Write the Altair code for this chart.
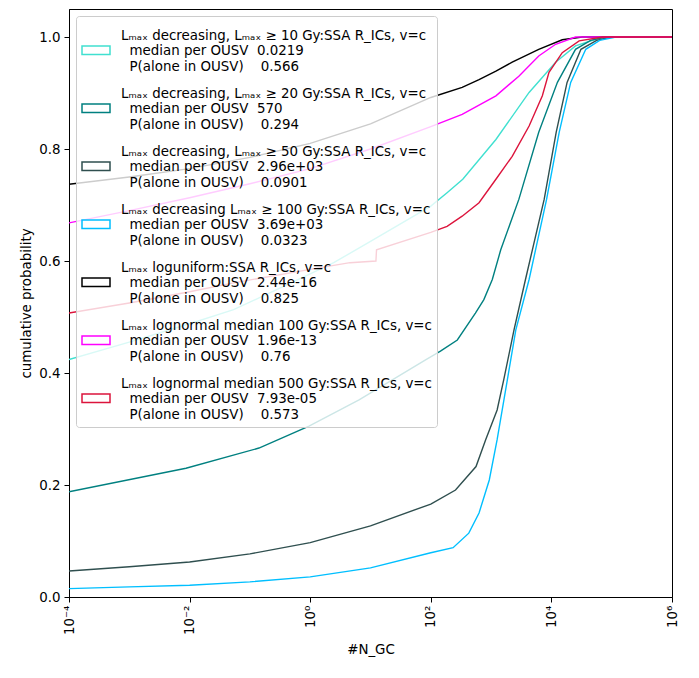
import altair as alt
import pandas as pd

# ---------------- data ----------------
line1 = [
    "Lₘₐₓ decreasing, Lₘₐₓ ≥ 10 Gy:SSA R_ICs, v=c",
    "Lₘₐₓ decreasing, Lₘₐₓ ≥ 20 Gy:SSA R_ICs, v=c",
    "Lₘₐₓ decreasing, Lₘₐₓ ≥ 50 Gy:SSA R_ICs, v=c",
    "Lₘₐₓ decreasing Lₘₐₓ ≥ 100 Gy:SSA R_ICs, v=c",
    "Lₘₐₓ loguniform:SSA R_ICs, v=c",
    "Lₘₐₓ lognormal median 100 Gy:SSA R_ICs, v=c",
    "Lₘₐₓ lognormal median 500 Gy:SSA R_ICs, v=c",
]
medians = ["0.0219", "570", "2.96e+03", "3.69e+03", "2.44e-16", "1.96e-13", "7.93e-05"]
p_alone = ["0.566", "0.294", "0.0901", "0.0323", "0.825", "0.76", "0.573"]
colors = ["#40E0D0", "#008080", "#2F4F4F", "#00BFFF", "#000000", "#FF00FF", "#DC143C"]

# exponents (log10 of #N_GC) and cumulative probabilities, per series
e_10 = [-4, -3, -2, -1.27, 0, 0.39, 1, 2, 2.27, 2.53, 3.08, 3.63, 4.07, 4.40, 4.85, 6]
p_10 = [0.424, 0.455, 0.488, 0.513, 0.577, 0.597, 0.635, 0.698, 0.722, 0.746, 0.817, 0.901, 0.955, 0.984, 1.0, 1.0]

e_20 = [-4, -2.06, -0.85, -0.02, 0.81, 1.92, 2.16, 2.44, 2.74, 2.88, 3.02, 3.16, 3.46, 3.79, 4.10, 4.40, 4.65, 4.90, 6]
p_20 = [0.188, 0.230, 0.266, 0.305, 0.352, 0.424, 0.439, 0.459, 0.507, 0.531, 0.567, 0.62, 0.71, 0.83, 0.919, 0.978, 0.994, 1.0, 1.0]

e_50 = [-4, -3, -2, -1, 0, 1, 2, 2.41, 2.75, 2.91, 3.10, 3.21, 3.38, 3.57, 3.88, 4.08, 4.26, 4.49, 4.75, 4.99, 6]
p_50 = [0.0465, 0.054, 0.0626, 0.077, 0.097, 0.127, 0.166, 0.191, 0.233, 0.281, 0.334, 0.388, 0.477, 0.567, 0.71, 0.83, 0.919, 0.978, 0.994, 1.0, 1.0]

e_100 = [-4, -3, -2, -1, 0, 1, 2, 2.37, 2.63, 2.80, 2.97, 3.10, 3.27, 3.41, 3.63, 3.92, 4.13, 4.32, 4.57, 4.80, 5.07, 6]
p_100 = [0.015, 0.018, 0.021, 0.027, 0.036, 0.052, 0.079, 0.088, 0.114, 0.15, 0.209, 0.281, 0.388, 0.477, 0.567, 0.71, 0.83, 0.919, 0.978, 0.994, 1.0, 1.0]

e_lu = [-4, -3, -2, -1, 0, 1, 2, 2.52, 2.80, 3.08, 3.35, 3.79, 4.18, 4.51, 6]
p_lu = [0.737, 0.75, 0.765, 0.785, 0.81, 0.845, 0.892, 0.91, 0.924, 0.939, 0.955, 0.978, 0.995, 1.0, 1.0]

e_ln100 = [-4, -3, -2, -1, 0, 1, 2, 2.52, 3.08, 3.46, 3.79, 4.07, 4.40, 6]
p_ln100 = [0.668, 0.69, 0.713, 0.738, 0.765, 0.80, 0.84, 0.862, 0.895, 0.930, 0.966, 0.987, 1.0, 1.0]

e_ln500 = [-4, -3, -2, -1.27, 0, 0.66, 1.09, 1.10, 2, 2.27, 2.52, 2.80, 3.08, 3.35, 3.63, 3.85, 3.96, 4.18, 4.46, 4.85, 6]
p_ln500 = [0.507, 0.525, 0.545, 0.561, 0.585, 0.597, 0.600, 0.62, 0.651, 0.662, 0.680, 0.704, 0.746, 0.787, 0.841, 0.895, 0.937, 0.972, 0.993, 1.0, 1.0]

xtick_vals = [1e-4, 1e-2, 1e0, 1e2, 1e4, 1e6]
xtick_labels = ["10⁻⁴", "10⁻²", "10⁰", "10²", "10⁴", "10⁶"]
ytick_vals = [0.0, 0.2, 0.4, 0.6, 0.8, 1.0]

# ---------------- build table ----------------
NB = "\u00a0"
ZW = "\u200b"
names = [
    f"{l1}|{ZW}{NB*2}median per OUSV{NB*2}{m}|{ZW}{NB*2}P(alone in OUSV){NB*4}{pa}"
    for l1, m, pa in zip(line1, medians, p_alone)
]
series = [(e_10, p_10), (e_20, p_20), (e_50, p_50), (e_100, p_100),
          (e_lu, p_lu), (e_ln100, p_ln100), (e_ln500, p_ln500)]
rows = []
for i, (es, ps) in enumerate(series):
    for e, p in zip(es, ps):
        rows.append({"series": names[i], "order": i, "x": 10.0 ** e, "p": p})
df = pd.DataFrame(rows)

label_arr = "[" + ",".join(f"'{s}'" for s in xtick_labels) + "]"
x_label_expr = f"{label_arr}[round(log(datum.value)/LN10/2)+2]"

FONT = "DejaVu Sans"
FS = 13.4

chart = alt.Chart(df).mark_line(strokeWidth=1.4, clip=True).encode(
    x=alt.X("x:Q",
            scale=alt.Scale(type="log", domain=[1e-4, 1e6], nice=False),
            axis=alt.Axis(title="#N_GC", values=xtick_vals, labelExpr=x_label_expr,
                          labelAngle=270, grid=False, tickSize=5, labelPadding=3,
                          titlePadding=8)),
    y=alt.Y("p:Q",
            scale=alt.Scale(domain=[0, 1.05], nice=False, zero=False),
            axis=alt.Axis(title="cumulative probability", values=ytick_vals, format=".1f",
                          grid=False, tickSize=5, labelPadding=4, titlePadding=5)),
    color=alt.Color("series:N",
                    scale=alt.Scale(domain=names, range=colors),
                    sort=names,
                    legend=alt.Legend(
                        title=None, orient="top-left", offset=7,
                        labelExpr="split(datum.label, '|')",
                        labelLimit=500, labelFont=FONT, labelFontSize=FS,
                        labelColor="#000000", labelOffset=10,
                        symbolType="M-1,0.72L1,0.72L1,1.32L-1,1.32Z",
                        symbolSize=784, symbolStrokeWidth=1.5,
                        symbolFillColor="white",
                        rowPadding=5, padding=5,
                        fillColor="rgba(255,255,255,0.8)", strokeColor="#cccccc",
                        cornerRadius=3)),
    order="order:Q",
).properties(
    width=603, height=588,
    autosize=alt.AutoSizeParams(type="none"),
    padding={"left": 61, "top": 1, "right": 12, "bottom": 70},
).configure_view(
    stroke="#000000", strokeWidth=1
).configure_axis(
    labelFont=FONT, titleFont=FONT, labelFontSize=FS, titleFontSize=FS,
    labelColor="#000000", titleColor="#000000", titleFontWeight="normal",
    domainColor="#000000", tickColor="#000000", domainWidth=1, tickWidth=1
)

chart.save("out.html", embed_options={"renderer": "svg", "actions": False})
